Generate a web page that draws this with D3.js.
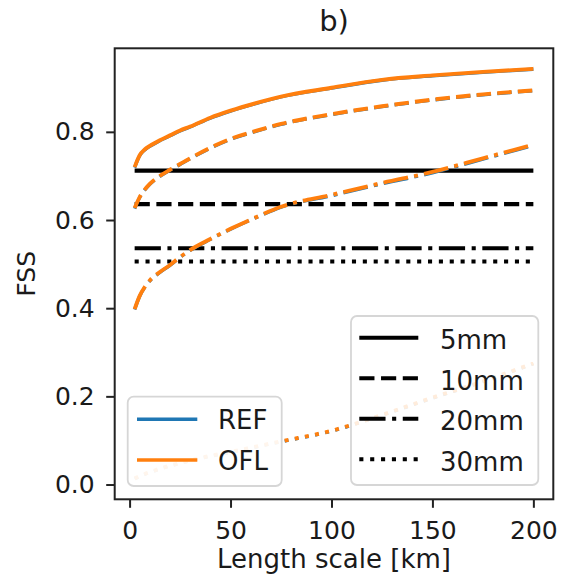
<!DOCTYPE html>
<html>
<head>
<meta charset="utf-8">
<script src="https://cdn.jsdelivr.net/npm/d3@7"></script>
<style>
  body { margin: 0; background: #fff; }
  svg { display: block; }
  text { font-family: "DejaVu Sans", sans-serif; fill: #1a1a1a; }
</style>
</head>
<body>
<svg id="chart" width="561" height="586"></svg>
<script>
// Neighbourhood length scales [km]
const lengthKm = [2.5, 5, 7.5, 10, 15, 20, 25, 30, 40, 50, 62.5, 75, 100, 125, 150, 175, 200];

// Precipitation thresholds
const thresholds = ["5mm", "10mm", "20mm", "30mm"];

// FSS of the REF experiment, one array per threshold
const ref5  = [0.719, 0.746, 0.759, 0.767, 0.780, 0.791, 0.802, 0.811, 0.831, 0.847, 0.864, 0.879, 0.899, 0.917, 0.927, 0.935, 0.942];
const ref10 = [0.626, 0.651, 0.668, 0.681, 0.699, 0.713, 0.726, 0.739, 0.763, 0.783, 0.801, 0.817, 0.839, 0.857, 0.872, 0.884, 0.893];
const ref20 = [0.397, 0.427, 0.447, 0.462, 0.481, 0.497, 0.515, 0.531, 0.556, 0.579, 0.605, 0.629, 0.655, 0.682, 0.707, 0.738, 0.769];
const ref30 = [0.013, 0.018, 0.023, 0.027, 0.035, 0.042, 0.048, 0.054, 0.064, 0.073, 0.085, 0.097, 0.121, 0.157, 0.196, 0.233, 0.274];

// FSS of the OFL experiment
const ofl5  = [0.720, 0.747, 0.760, 0.768, 0.781, 0.792, 0.803, 0.812, 0.832, 0.848, 0.865, 0.880, 0.900, 0.918, 0.928, 0.936, 0.943];
const ofl10 = [0.627, 0.652, 0.669, 0.682, 0.700, 0.714, 0.727, 0.740, 0.764, 0.784, 0.802, 0.818, 0.840, 0.858, 0.873, 0.885, 0.894];
const ofl20 = [0.398, 0.428, 0.448, 0.463, 0.482, 0.498, 0.516, 0.532, 0.557, 0.580, 0.606, 0.630, 0.657, 0.684, 0.709, 0.740, 0.771];
const ofl30 = [0.014, 0.019, 0.024, 0.028, 0.036, 0.043, 0.049, 0.055, 0.065, 0.074, 0.086, 0.098, 0.122, 0.158, 0.197, 0.234, 0.275];

// "Useful skill" level 0.5 + f0/2 for each threshold
const fssUseful = [0.712, 0.636, 0.536, 0.506];

const experiments = ["REF", "OFL"];
const xTicks = [0, 50, 100, 150, 200];
const yTicks = [0.0, 0.2, 0.4, 0.6, 0.8];

// ---- layout ----
const W = 561, H = 586;
const plot = { left: 114.7, right: 553.3, top: 48.3, bottom: 499.3 };
const colors = { REF: "#1f77b4", OFL: "#ff7f0e" };
const lineWidth = { REF: 3.3, OFL: 3.9 };
const lwBlack = 4.1;

// matplotlib-style dash patterns, in multiples of the line width
const dashUnits = {
  "5mm": null,
  "10mm": [3.7, 1.6],
  "20mm": [6.4, 1.6, 1, 1.6],
  "30mm": [1, 1.65]
};
const dashFor = (thr, lw) => dashUnits[thr] ? dashUnits[thr].map(v => v * lw).join(",") : null;

const refSeries = [ref5, ref10, ref20, ref30];
const oflSeries = [ofl5, ofl10, ofl20, ofl30];

// data limits with 5% margins
const allY = refSeries.concat(oflSeries).flat().concat(fssUseful);
const [yMin, yMax] = d3.extent(allY);
const [xMin, xMax] = d3.extent(lengthKm);
const xPad = (xMax - xMin) * 0.05, yPad = (yMax - yMin) * 0.05;

const x = d3.scaleLinear().domain([xMin - xPad, xMax + xPad]).range([plot.left, plot.right]);
const y = d3.scaleLinear().domain([yMin - yPad, yMax + yPad]).range([plot.bottom, plot.top]);

const svg = d3.select("#chart");
svg.append("rect").attr("width", W).attr("height", H).attr("fill", "#fff");

svg.append("defs").append("clipPath").attr("id", "plot-clip")
  .append("rect")
  .attr("x", plot.left).attr("y", plot.top)
  .attr("width", plot.right - plot.left).attr("height", plot.bottom - plot.top);

const body = svg.append("g").attr("clip-path", "url(#plot-clip)");
const line = d3.line().x(d => x(d[0])).y(d => y(d[1]));
const curve = d3.line().x(d => x(d[0])).y(d => y(d[1])).curve(d3.curveMonotoneX);

// horizontal useful-skill levels
thresholds.forEach((thr, i) => {
  body.append("path")
    .datum(lengthKm.map(k => [k, fssUseful[i]]))
    .attr("d", line)
    .attr("fill", "none")
    .attr("stroke", "#000")
    .attr("stroke-width", lwBlack)
    .attr("stroke-dasharray", dashFor(thr, lwBlack));
});

// FSS curves: REF beneath, OFL on top; dashes share one pattern length
[["REF", refSeries], ["OFL", oflSeries]].forEach(([name, series]) => {
  thresholds.forEach((thr, i) => {
    body.append("path")
      .datum(lengthKm.map((k, j) => [k, series[i][j]]))
      .attr("d", curve)
      .attr("fill", "none")
      .attr("stroke", colors[name])
      .attr("stroke-width", lineWidth[name])
      .attr("stroke-linejoin", "round")
      .attr("stroke-dasharray", dashFor(thr, lineWidth.OFL));
  });
});

// ---- axes ----
const tickFont = 25;
const xAxis = d3.axisBottom(x).tickValues(xTicks).tickSize(8.5).tickPadding(13).tickFormat(d3.format("d"));
const yAxis = d3.axisLeft(y).tickValues(yTicks).tickSize(8.5).tickPadding(11.5).tickFormat(d3.format(".1f"));

const gx = svg.append("g").attr("transform", `translate(0,${plot.bottom})`).call(xAxis);
const gy = svg.append("g").attr("transform", `translate(${plot.left},0)`).call(yAxis);
[gx, gy].forEach(g => {
  g.select(".domain").remove();
  g.selectAll(".tick line").attr("stroke", "#222").attr("stroke-width", 2);
  g.selectAll(".tick text")
    .attr("font-family", "DejaVu Sans")
    .attr("font-size", tickFont)
    .attr("fill", "#1a1a1a");
});

// frame
svg.append("rect")
  .attr("x", plot.left).attr("y", plot.top)
  .attr("width", plot.right - plot.left).attr("height", plot.bottom - plot.top)
  .attr("fill", "none").attr("stroke", "#222").attr("stroke-width", 2);

// titles
const cx = (plot.left + plot.right) / 2;
svg.append("text").attr("x", cx).attr("y", 30.7)
  .attr("text-anchor", "middle").attr("font-size", 29).text("b)");
svg.append("text").attr("x", cx).attr("y", 568.3)
  .attr("text-anchor", "middle").attr("font-size", 26).text("Length scale [km]");
svg.append("text")
  .attr("transform", `translate(35.3,${(plot.top + plot.bottom) / 2}) rotate(-90)`)
  .attr("text-anchor", "middle").attr("font-size", 25).text("FSS");

// ---- legends ----
function legend(box, items, handleX0, handleX1, textX, rowY0, rowStep, baselineOff, opacity) {
  const g = svg.append("g");
  g.append("rect")
    .attr("x", box.x).attr("y", box.y).attr("width", box.w).attr("height", box.h)
    .attr("rx", 6).attr("ry", 6)
    .attr("fill", "#fff").attr("fill-opacity", opacity)
    .attr("stroke", "#d6d6d6").attr("stroke-width", 1.8);
  const row = g.selectAll("g.row").data(items).join("g").attr("class", "row");
  row.append("line")
    .attr("x1", handleX0).attr("x2", handleX1)
    .attr("y1", (d, i) => rowY0 + i * rowStep).attr("y2", (d, i) => rowY0 + i * rowStep)
    .attr("stroke", d => d.color).attr("stroke-width", d => d.lw)
    .attr("stroke-dasharray", d => d.dash);
  row.append("text")
    .attr("x", textX).attr("y", (d, i) => rowY0 + i * rowStep + baselineOff)
    .attr("font-size", 26).text(d => d.label);
}

legend({ x: 127.7, y: 396.7, w: 154, h: 89.3 },
  experiments.map(e => ({ label: e, color: colors[e], lw: 3.6, dash: null })),
  137, 197.3, 218, 419.3, 40.7, 9.8, 0.92);

legend({ x: 351, y: 316, w: 187.3, h: 169 },
  thresholds.map(t => ({ label: t, color: "#000", lw: lwBlack, dash: dashFor(t, lwBlack) })),
  359.3, 418.3, 440, 337.7, 40.5, 11.4, 0.85);
</script>
</body>
</html>
